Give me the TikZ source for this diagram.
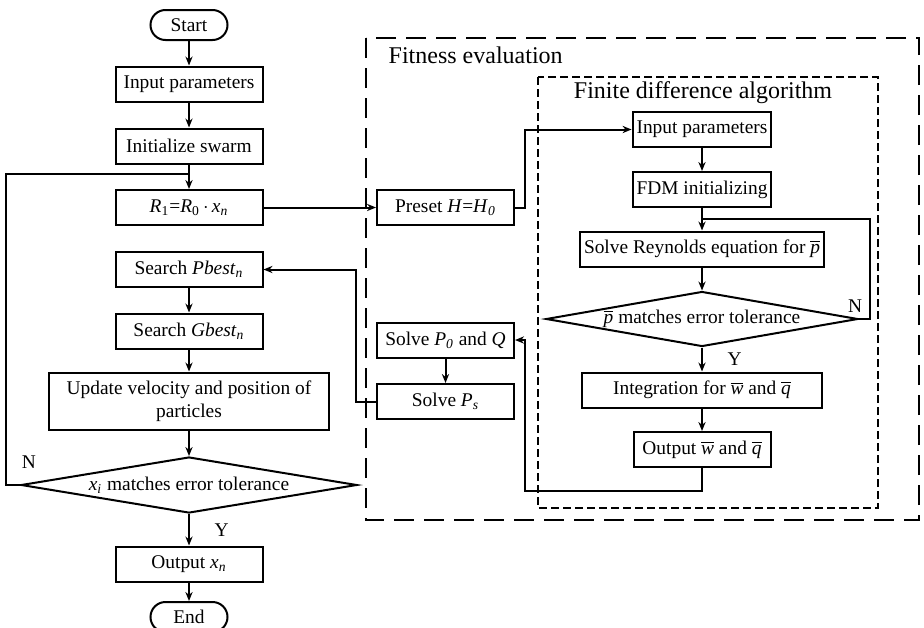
\documentclass[tikz,border=0pt]{standalone}
\usepackage{fontspec}
\setmainfont{Liberation Serif}
\usetikzlibrary{arrows.meta,positioning,shapes.geometric,calc}
\newcommand{\sbi}[1]{\textsubscript{\textit{#1}}}
\newcommand{\ovl}[1]{$\overline{\mbox{\textit{#1}}}$}

\begin{document}
\begin{tikzpicture}[x=0.5pt,y=-0.5pt,on grid,line width=1pt,
  >={Stealth[length=4.5pt,width=3.6pt]},
  font=\fontsize{9.7}{11.5}\selectfont,
  box/.style={draw,rectangle,minimum width=73.5pt,minimum height=17.5pt,inner sep=2pt},
  term/.style={draw,rectangle,rounded corners=7.5pt,minimum width=38.5pt,minimum height=15pt},
  decision/.style={draw,diamond,aspect=6,inner sep=0pt},
  frame/.style={dash pattern=on 10pt off 5pt},
  subframe/.style={dash pattern=on 4pt off 2pt}]
  \useasboundingbox (0,0) rectangle (924,627);
  % PSO column
  \node[term]            (start) at (189,25)     {Start};
  \node[box]             (in1)  [below=29.5pt of start] {Input parameters};
  \node[box]             (init) [below=31pt of in1]    {Initialize swarm};
  \node[box]             (r1)   [below=30.75pt of init] {\textit{R}\textsubscript{1}=\textit{R}\textsubscript{0}\,$\cdot$\,\textit{x}\sbi{n}};
  \node[box]             (pbest)[below=31pt of r1]     {Search \textit{Pbest}\sbi{n}};
  \node[box]             (gbest)[below=30.75pt of pbest] {Search \textit{Gbest}\sbi{n}};
  \node[box,minimum width=140pt,minimum height=28.5pt,align=center]
                         (upd)  [below=35pt of gbest]  {Update velocity and position of\\particles};
  \node[decision,minimum width=168pt,minimum height=28pt]
                         (dec1) [below=42pt of upd]    {\textit{x}\sbi{i} matches error tolerance};
  \node[box]             (outx) [below=39.5pt of dec1] {Output \textit{x}\sbi{n}};
  \node[term]            (end)  [below=26.5pt of outx] {End};
  % fitness evaluation
  \node[box,minimum width=68.5pt] (preset)[right=128.25pt of r1] {Preset \textit{H}=\textit{H}\sbi{0}};
  \node[box,minimum width=68.5pt] (sp0)  [below=66.25pt of preset] {Solve \textit{P}\sbi{0} and \textit{Q}};
  \node[box,minimum width=68.5pt] (sps)  [below=30.75pt of sp0]  {Solve \textit{P}\sbi{s}};
  % finite difference
  \node[box,minimum width=68.5pt] (fdin) at (702,129.5)   {Input parameters};
  \node[box,minimum width=68.5pt] (fdm)  [below=30pt of fdin] {FDM initializing};
  \node[box,minimum width=120pt]  (rey)  [below=29.75pt of fdm] {Solve Reynolds equation for \ovl{p}};
  \node[decision,minimum width=156pt,minimum height=27.5pt]
                                  (dec2) [below=35pt of rey]  {\ovl{p} matches error tolerance};
  \node[box,minimum width=120pt]  (integ)[below=35.5pt of dec2] {Integration for \ovl{w} and \ovl{q}};
  \node[box,minimum width=68.5pt] (outw) [below=29.75pt of integ] {Output \ovl{w} and \ovl{q}};

  \draw[frame]    (366,38) rectangle (919,520);
  \draw[subframe] (538,77) rectangle (878,508);
  \node[font=\fontsize{12}{14}\selectfont,anchor=west] (tfit) at (381,55) {Fitness evaluation};
  \node[font=\fontsize{12}{14}\selectfont] (tfd) at (703,93) {Finite difference algorithm};

  \coordinate (j1) at ($(init.south)!0.4!(r1.north)$);
  \coordinate (j2) at ($(fdm.south)!0.5!(rey.north)$);

  \path[->] (start) edge (in1)
            (in1) edge (init)
            (init) edge (r1)
            (pbest) edge (gbest)
            (gbest) edge (upd)
            (upd) edge (dec1)
            (dec1) edge node [right=9pt] {Y} (outx)
            (outx) edge (end)
            (r1) edge (preset)
            (sp0) edge (sps)
            (fdin) edge (fdm)
            (fdm) edge (rey)
            (rey) edge (dec2)
            (dec2) edge node [right=9pt] {Y} (integ)
            (integ) edge (outw);
  \draw (dec1.west) -- ++(-14,0) |- (j1);
  \node (n1) at (29,462) {N};
  \draw (dec2.east) -- ++(11,0) |- (j2);
  \node (n2) at (855,306) {N};
  \draw[->] (preset.east) -- ++(10,0) |- (fdin.west);
  \draw[->] (outw.south) -- ++(0,23) -| ([xshift=5pt]sp0.east) -- (sp0.east);
  \draw[->] (sps.west) -- ++(-20,0) |- (pbest.east);
\end{tikzpicture}
\end{document}
